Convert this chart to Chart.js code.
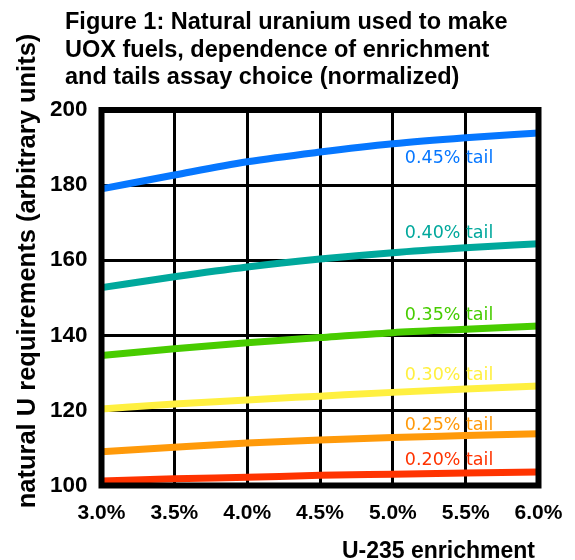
<!DOCTYPE html>
<html>
<head>
<meta charset="utf-8">
<script src="https://cdn.jsdelivr.net/npm/chart.js@4.4.1/dist/chart.umd.min.js"></script>
<style>
  html, body { margin: 0; padding: 0; background: #fff; }
  #wrap { position: relative; width: 575px; height: 560px; }
  #title { position: absolute; left: 65px; top: 8px; font: bold 23.5px "Liberation Sans", Arial, sans-serif; line-height: 27.5px; color: #000; white-space: nowrap; }
  canvas { position: absolute; left: 0; top: 0; }
</style>
</head>
<body>
<div id="wrap">
  <canvas id="c" width="575" height="560"></canvas>
  <div id="title">Figure 1: Natural uranium used to make<br>UOX fuels, dependence of enrichment<br>and tails assay choice (normalized)</div>
</div>
<script>
// ---- data ----
const enrichment = ['3.0%', '3.5%', '4.0%', '4.5%', '5.0%', '5.5%', '6.0%'];
const yTicks = [100, 120, 140, 160, 180, 200];
const seriesNames = ['0.45% tail', '0.40% tail', '0.35% tail', '0.30% tail', '0.25% tail', '0.20% tail'];
const tail045 = [179.0, 182.7, 186.2, 188.8, 191.0, 192.6, 193.9];
const tail040 = [152.7, 155.6, 158.2, 160.3, 162.0, 163.3, 164.4];
const tail035 = [134.6, 136.4, 138.0, 139.4, 140.7, 141.6, 142.5];
const tail030 = [120.4, 121.7, 122.8, 123.8, 124.8, 125.7, 126.5];
const tail025 = [109.0, 110.2, 111.3, 112.1, 112.8, 113.3, 113.8];
const tail020 = [101.2, 101.8, 102.2, 102.7, 103.0, 103.3, 103.6];
const yTitle = 'natural U requirements (arbitrary units)';
const xTitle = 'U-235 enrichment';

const seriesValues = [tail045, tail040, tail035, tail030, tail025, tail020];
const colors = ['#0677ff', '#00a89c', '#48cc00', '#fff040', '#ff9a0a', '#ff3300'];
const labelOffsets = [19, -15, -13, -12, -7, -9];

const FONT = '"Liberation Sans", Arial, sans-serif';

const framePlugin = {
  id: 'frame',
  afterDraw(chart) {
    const { ctx, chartArea: a, scales } = chart;
    ctx.save();
    // tail labels
    ctx.font = '17.5px "DejaVu Sans", sans-serif';
    ctx.textBaseline = 'alphabetic';
    ctx.textAlign = 'left';
    chart.data.datasets.forEach((ds, i) => {
      const x = scales.x.getPixelForValue(4) + 12;
      const y = scales.y.getPixelForValue(ds.data[4]) + labelOffsets[i];
      ctx.fillStyle = ds.borderColor;
      ctx.fillText(seriesNames[i], x, y);
    });
    // heavy frame
    ctx.strokeStyle = '#000';
    ctx.lineWidth = 6;
    ctx.strokeRect(a.left, a.top, a.right - a.left, a.bottom - a.top);
    // x axis title, right-aligned under the plot
    ctx.fillStyle = '#000';
    ctx.font = 'bold 23px ' + FONT;
    ctx.textAlign = 'right';
    ctx.textBaseline = 'alphabetic';
    ctx.fillText(xTitle, 535, 558);
    // y axis title (placed a little above the axis centre, as in the reference)
    ctx.translate(28, 271);
    ctx.rotate(-Math.PI / 2);
    ctx.font = 'bold 25.5px ' + FONT;
    ctx.textAlign = 'center';
    ctx.textBaseline = 'middle';
    ctx.fillText(yTitle, 0, 0);
    ctx.restore();
  }
};

new Chart(document.getElementById('c'), {
  type: 'line',
  data: {
    labels: enrichment,
    datasets: seriesValues.map((vals, i) => ({
      label: seriesNames[i],
      data: vals,
      borderColor: colors[i],
      backgroundColor: colors[i],
      borderWidth: 7,
      pointRadius: 0,
      cubicInterpolationMode: 'monotone',
      borderCapStyle: 'butt'
    }))
  },
  options: {
    responsive: false,
    animation: false,
    layout: { padding: { left: 0, top: 110, right: 36.5, bottom: 0 } },
    plugins: { legend: { display: false }, title: { display: false }, tooltip: { enabled: false } },
    scales: {
      x: {
        type: 'category',
        offset: false,
        z: 1,
        afterFit(s) { s.height = 560 - 485.5; s.paddingLeft = 0; s.paddingRight = 0; },
        grid: { color: '#000', lineWidth: 3, drawTicks: false },
        border: { display: false },
        ticks: { color: '#000', padding: 17, font: { family: FONT, weight: 'bold', size: 21, lineHeight: 1 }, maxRotation: 0, autoSkip: false },
        title: { display: false }
      },
      y: {
        type: 'linear',
        min: 100,
        max: 200,
        z: 1,
        afterFit(s) { s.width = 101.5; },
        afterBuildTicks(s) { s.ticks = yTicks.map(v => ({ value: v })); },
        grid: { color: '#000', lineWidth: 3, drawTicks: false },
        border: { display: false },
        ticks: { color: '#000', padding: 14, font: { family: FONT, weight: 'bold', size: 22.5 } },
        title: { display: false }
      }
    }
  },
  plugins: [framePlugin]
});
</script>
</body>
</html>
